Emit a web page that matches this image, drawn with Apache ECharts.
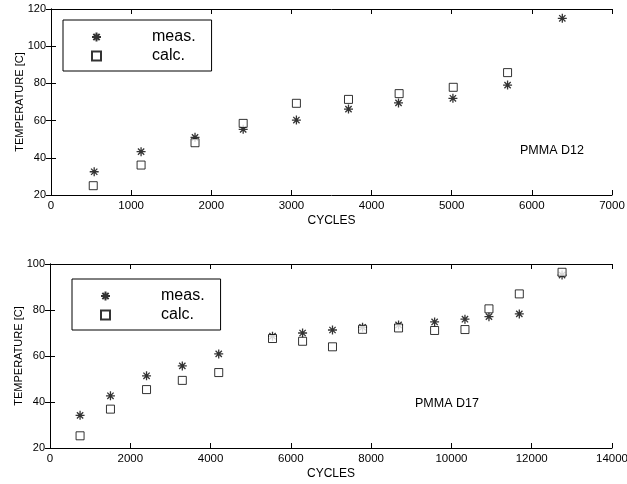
<!DOCTYPE html>
<html lang="en">
<head>
	<meta charset="UTF-8">
	<title>PMMA temperature</title>
	<script src="https://cdn.jsdelivr.net/npm/echarts@6/dist/echarts.min.js"></script>
	<style>
		html, body { margin: 0; padding: 0; background: #fff; }
	</style>
</head>
<body>
	<div id="chart" style="width:627px; height:484px;"></div>
	<script>
	// PMMA D12
	var d12Cycles = [539, 1124, 1797, 2398, 3062, 3712, 4336, 5015, 5697, 6380];
	var d12Meas = [32.5, 43.3, 51, 55.3, 60.3, 66.2, 69.5, 72, 79.1, 115];
	var d12CalcCycles = [527, 1124, 1797, 2398, 3062, 3712, 4344, 5019, 5697];
	var d12Calc = [25, 36.1, 48.1, 58.5, 69.3, 71.4, 74.5, 77.9, 85.8];

	// PMMA D17
	var d17Cycles = [749, 1506, 2405, 3296, 4203, 5543, 6292, 7037, 7786, 8683, 9581, 10337, 10935, 11691, 12756];
	var d17Meas = [34.2, 42.7, 51.4, 55.7, 60.9, 68.6, 70, 71.3, 72.5, 73.5, 74.8, 76, 77.1, 78.3, 95.2];
	var d17Calc = [25.3, 36.9, 45.4, 49.4, 52.8, 67.6, 66.4, 64, 71.6, 72.2, 71.1, 71.5, 80.5, 87, 96.4];

	function pairs(xs, ys) {
		return xs.map(function (x, i) { return [x, ys[i]]; });
	}

	var star = 'path://M0,-5L0,5M-5,0L5,0M-3.5,-3.5L3.5,3.5M-3.5,3.5L3.5,-3.5';
	var font = 'Liberation Sans';

	function axisX(idx, max, interval, withLabel) {
		return {
			type: 'value', gridIndex: idx, min: 0, max: max, interval: interval,
			position: withLabel ? 'bottom' : 'top',
			name: withLabel ? 'CYCLES' : '', nameLocation: 'middle', nameGap: 20,
			nameTextStyle: { color: '#000', fontSize: 12, fontFamily: font },
			axisLine: { show: true, lineStyle: { color: '#000', width: 1 } },
			axisTick: { show: true, inside: true, length: 5, lineStyle: { color: '#000' } },
			axisLabel: { show: withLabel, color: '#000', fontSize: 11.5, fontFamily: font, margin: 5,
				formatter: function (v) { return String(v); } },
			splitLine: { show: false }
		};
	}
	function axisY(idx, min, max, withLabel) {
		return {
			type: 'value', gridIndex: idx, min: min, max: max, interval: 20,
			position: withLabel ? 'left' : 'right',
			name: withLabel ? 'TEMPERATURE [C]' : '', nameLocation: 'middle', nameGap: 26,
			nameMoveOverlap: false,
			nameTextStyle: { color: '#000', fontSize: 11, fontFamily: font },
			axisLine: { show: true, lineStyle: { color: '#000', width: 1 } },
			axisTick: { show: true, inside: true, length: 5, lineStyle: { color: '#000' } },
			axisLabel: { show: withLabel, color: '#000', fontSize: 11, fontFamily: font, margin: 5 },
			splitLine: { show: false }
		};
	}
	function legend(left, top) {
		return {
			left: left, top: top, orient: 'vertical',
			data: [{ name: 'meas.', icon: star }, { name: 'calc.', icon: 'rect' }],
			borderColor: '#000', borderWidth: 1, borderRadius: 0,
			padding: [9, 16, 7, 28], itemGap: 3, itemWidth: 9, itemHeight: 9,
			textStyle: { color: '#000', fontSize: 16, fontFamily: font, padding: [0, 0, 0, 46] },
			selectedMode: false
		};
	}
	var measStyle = { color: 'transparent', borderColor: '#000', borderWidth: 1.3 };
	var calcStyle = { color: '#fff', borderColor: '#000', borderWidth: 1 };

	var myChart = echarts.init(document.getElementById('chart'));
	var option = {
		animation: false,
		backgroundColor: '#fff',
		grid: [
			{ left: 51, right: 15, top: 9, height: 186, outerBoundsMode: 'none' },
			{ left: 50, right: 15, top: 264, height: 184, outerBoundsMode: 'none' }
		],
		xAxis: [
			axisX(0, 7000, 1000, true), axisX(0, 7000, 1000, false),
			axisX(1, 14000, 2000, true), axisX(1, 14000, 2000, false)
		],
		yAxis: [
			axisY(0, 20, 120, true), axisY(0, 20, 120, false),
			axisY(1, 20, 100, true), axisY(1, 20, 100, false)
		],
		legend: [legend(63, 20), legend(72, 279)],
		graphic: [
			{ type: 'text', left: 520, top: 144, style: { text: 'PMMA D12', fill: '#000', fontSize: 12.5, fontFamily: font } },
			{ type: 'text', left: 415, top: 397, style: { text: 'PMMA D17', fill: '#000', fontSize: 12.5, fontFamily: font } }
		],
		series: [
			{ name: 'meas.', type: 'scatter', xAxisIndex: 0, yAxisIndex: 0, symbol: star, symbolSize: 9,
				itemStyle: measStyle, data: pairs(d12Cycles, d12Meas) },
			{ name: 'calc.', type: 'scatter', xAxisIndex: 0, yAxisIndex: 0, symbol: 'rect', symbolSize: 8,
				itemStyle: calcStyle, data: pairs(d12CalcCycles, d12Calc) },
			{ name: 'meas.', type: 'scatter', xAxisIndex: 2, yAxisIndex: 2, symbol: star, symbolSize: 9,
				itemStyle: measStyle, data: pairs(d17Cycles, d17Meas) },
			{ name: 'calc.', type: 'scatter', xAxisIndex: 2, yAxisIndex: 2, symbol: 'rect', symbolSize: 8,
				itemStyle: calcStyle, data: pairs(d17Cycles, d17Calc) }
		]
	};
	myChart.setOption(option);
	</script>
</body>
</html>
